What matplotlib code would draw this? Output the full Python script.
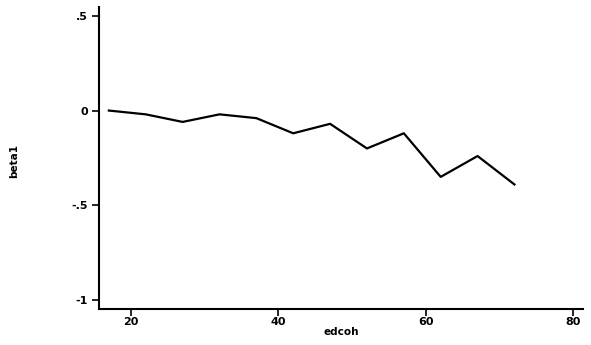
import matplotlib.pyplot as plt

# values
edcoh = [17, 22, 27, 32, 37, 42, 47, 52, 57, 62, 67, 72]
beta1 = [0.00, -0.02, -0.06, -0.02, -0.04, -0.12, -0.07, -0.20, -0.12, -0.35, -0.24, -0.39]
xticks = [20, 40, 60, 80]
yticks = [0.5, 0, -0.5, -1]
ytick_labels = ['.5', '0', '-.5', '-1']

fig = plt.figure(figsize=(5.91, 3.45), dpi=100)
ax = fig.add_axes([0.1675, 0.105, 0.819, 0.875])

ax.plot(edcoh, beta1, color='black', linewidth=1.6)

ax.set_xlim(15.66, 81.3)
ax.set_ylim(-1.046, 0.547)
ax.set_xticks(xticks)
ax.set_xticklabels([str(t) for t in xticks], fontsize=8, fontweight='bold')
ax.set_yticks(yticks)
ax.set_yticklabels(ytick_labels, fontsize=8, fontweight='bold')

for side in ['top', 'right']:
    ax.spines[side].set_visible(False)
for side in ['left', 'bottom']:
    ax.spines[side].set_linewidth(1.5)
ax.tick_params(axis='both', length=5, width=1.2, direction='out')
ax.tick_params(axis='x', pad=1)
ax.tick_params(axis='y', pad=3)

ax.set_xlabel('edcoh', fontsize=7.5, fontweight='bold')
ax.xaxis.set_label_coords(0.5, -0.077)
ax.xaxis.label.set_va('center')
ax.set_ylabel('beta1', fontsize=7.5, fontweight='bold')
ax.yaxis.set_label_coords(-0.176, 0.49)
ax.yaxis.label.set_va('center')

plt.savefig('out.png', dpi=100)
